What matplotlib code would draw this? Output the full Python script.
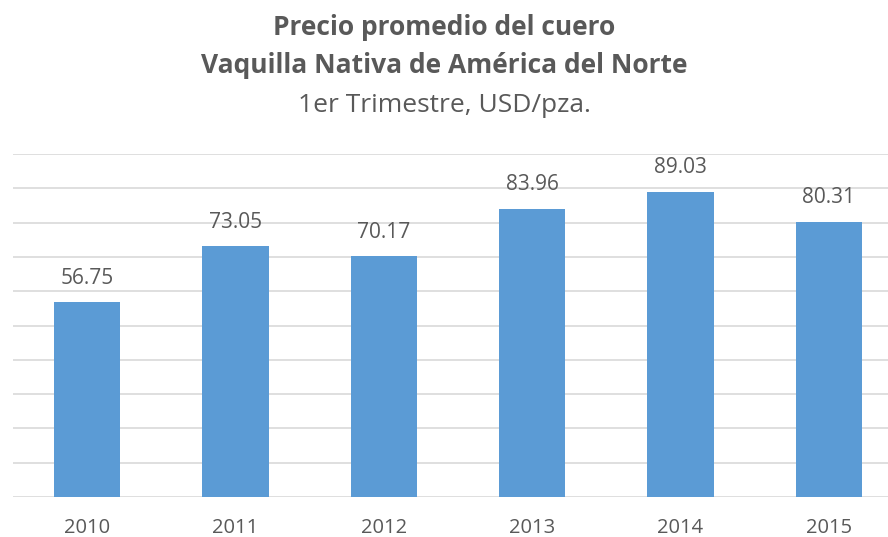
import matplotlib.pyplot as plt

years = ["2010", "2011", "2012", "2013", "2014", "2015"]
prices = [56.75, 73.05, 70.17, 83.96, 89.03, 80.31]

plt.rcParams['font.family'] = ['Open Sans', 'DejaVu Sans']
text_color = "#595959"

fig = plt.figure(figsize=(8.88, 5.37), dpi=100)
# category spacing ~148 px; the plot runs a little past the right edge like the source
ax = fig.add_axes([13 / 888, 40 / 537, 890 / 888, 343 / 537])

x = range(len(years))
ax.bar(x, prices, width=0.445, color="#5B9BD5", zorder=3)
for i, v in zip(x, prices):
    ax.text(i, v + 4, f"{v:.2f}", ha="center", va="bottom", fontsize=15, color=text_color)

ax.set_xlim(-0.5, len(years) - 0.5)
ax.set_ylim(0, 100)
ax.set_yticks(range(0, 101, 10))
ax.yaxis.grid(True, color="#D9D9D9", linewidth=1.2, zorder=0)
ax.tick_params(axis="y", left=False, labelleft=False)
ax.set_xticks(list(x))
ax.set_xticklabels(years, fontsize=14.5, color=text_color)
ax.tick_params(axis="x", length=0, pad=15)
for s in ax.spines.values():
    s.set_visible(False)

fig.text(0.5, 1 - 35 / 537, "Precio promedio del cuero", ha="center", va="baseline",
         fontsize=19, fontweight="bold", color=text_color)
fig.text(0.5, 1 - 73 / 537, "Vaquilla Nativa de América del Norte", ha="center", va="baseline",
         fontsize=19, fontweight="bold", color=text_color)
fig.text(0.5, 1 - 112 / 537, "1er Trimestre, USD/pza.", ha="center", va="baseline",
         fontsize=19, color=text_color)

fig.savefig("out.png", dpi=100)
